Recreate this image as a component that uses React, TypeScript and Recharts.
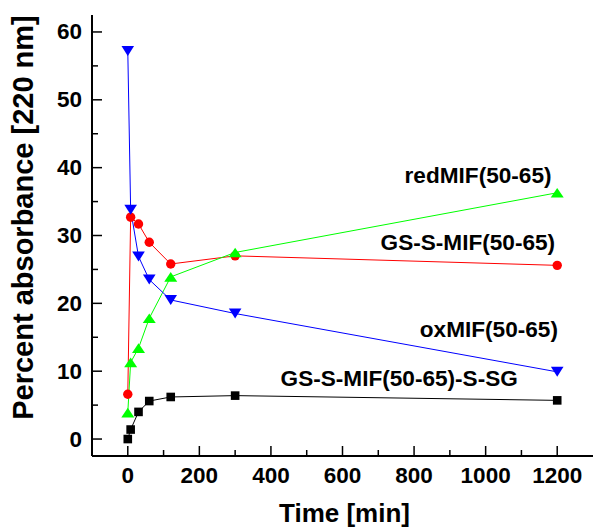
import React from 'react';
import {
  LineChart,
  Line,
  XAxis,
  YAxis,
  ReferenceDot,
  Label,
} from 'recharts';

// sampling times [min], shared by all four series
const timeMin = [0, 8, 30, 60, 120, 300, 1200];

// percent absorbance at 220 nm
const gsSgValues = [0.0, 1.4, 4.0, 5.6, 6.2, 6.4, 5.7];
const gsMifValues = [6.6, 32.7, 31.7, 29.0, 25.8, 27.0, 25.6];
const redMifValues = [3.9, 11.3, 13.4, 17.8, 23.9, 27.5, 36.3];
const oxMifValues = [57.2, 33.8, 26.9, 23.5, 20.5, 18.5, 9.9];

const xTicks = [0, 100, 200, 300, 400, 500, 600, 700, 800, 900, 1000, 1100, 1200];
const yTicks = [0, 5, 10, 15, 20, 25, 30, 35, 40, 45, 50, 55, 60];

// series name labels, anchored (right end) in data space
const seriesLabels = [
  { text: 'redMIF(50-65)', x: 1184, y: 38.8 },
  { text: 'GS-S-MIF(50-65)', x: 1194, y: 28.9 },
  { text: 'oxMIF(50-65)', x: 1202, y: 16.1 },
  { text: 'GS-S-MIF(50-65)-S-SG', x: 1090, y: 8.85 },
];

const FONT = '"Liberation Sans", Arial, sans-serif';

const toRows = (vals: number[]) => timeMin.map((t, i) => ({ t, v: vals[i] }));

const BottomTick = (props: any) => {
  const { x, y, payload } = props;
  const major = payload.value % 200 === 0;
  return (
    <g>
      <line x1={x} x2={x} y1={y} y2={y - (major ? 10 : 6)} stroke="#000" strokeWidth={1.5} />
      {major && (
        <text x={x} y={y + 19} textAnchor="middle" dominantBaseline="central"
          fontFamily={FONT} fontWeight="bold" fontSize={22.5} fill="#000">
          {payload.value}
        </text>
      )}
    </g>
  );
};

const TopTick = (props: any) => {
  const { x, y, payload } = props;
  const major = payload.value % 200 === 0;
  return <line x1={x} x2={x} y1={y} y2={y + (major ? 10 : 6)} stroke="#000" strokeWidth={1.5} />;
};

const LeftTick = (props: any) => {
  const { x, y, payload } = props;
  const major = payload.value % 10 === 0;
  return (
    <g>
      <line x1={x} x2={x + (major ? 10 : 6)} y1={y} y2={y} stroke="#000" strokeWidth={1.5} />
      {major && (
        <text x={x - 10} y={y} textAnchor="end" dominantBaseline="central"
          fontFamily={FONT} fontWeight="bold" fontSize={22.5} fill="#000">
          {payload.value}
        </text>
      )}
    </g>
  );
};

const Square = (p: any) => (
  <rect key={p.index} x={p.cx - 4.3} y={p.cy - 4.3} width={8.6} height={8.6} fill="#000" />
);
const Circle = (p: any) => <circle key={p.index} cx={p.cx} cy={p.cy} r={4.7} fill="#ff0000" />;
const TriUp = (p: any) => (
  <polygon key={p.index}
    points={`${p.cx - 6.5},${p.cy + 4.8} ${p.cx + 6.5},${p.cy + 4.8} ${p.cx},${p.cy - 4.8}`}
    fill="#00ff00" />
);
const TriDown = (p: any) => (
  <polygon key={p.index}
    points={`${p.cx - 6.3},${p.cy - 5} ${p.cx + 6.3},${p.cy - 5} ${p.cx},${p.cy + 5}`}
    fill="#0000ff" />
);

const YTitle = (props: any) => {
  const vb = props.viewBox;
  const cx = vb.x + 23;
  const cy = vb.y + vb.height / 2 - 18;
  return (
    <text x={cx} y={cy} transform={`rotate(-90, ${cx}, ${cy})`} textAnchor="middle"
      dominantBaseline="central" fontFamily={FONT} fontWeight="bold" fontSize={29} fill="#000">
      Percent absorbance [220 nm]
    </text>
  );
};

const XTitle = (props: any) => {
  const vb = props.viewBox;
  return (
    <text x={vb.x + vb.width / 2 + 2} y={vb.y + 57} textAnchor="middle" dominantBaseline="central"
      fontFamily={FONT} fontWeight="bold" fontSize={26} fill="#000">
      Time [min]
    </text>
  );
};

const SeriesLabel = (text: string) => (props: any) => {
  const vb = props.viewBox;
  return (
    <text x={vb.x} y={vb.y} textAnchor="end" dominantBaseline="central"
      fontFamily={FONT} fontWeight="bold" fontSize={22.6} fill="#000">
      {text}
    </text>
  );
};

export default function App() {
  return (
    <div style={{ position: 'fixed', left: 0, top: 0, width: 593, height: 527, background: '#fff' }}>
      <LineChart width={593} height={527} margin={{ top: 15, right: 0, bottom: 0, left: 0 }}>
        <XAxis
          type="number"
          dataKey="t"
          domain={[-100, 1300]}
          ticks={xTicks}
          allowDataOverflow
          height={71}
          tickSize={0}
          tickMargin={0}
          tickLine={false}
          tick={<BottomTick />}
          axisLine={{ stroke: '#000', strokeWidth: 2 }}
          interval={0}
        >
          <Label content={<XTitle />} />
        </XAxis>
        <XAxis
          xAxisId="top"
          orientation="top"
          type="number"
          dataKey="t"
          domain={[-100, 1300]}
          ticks={xTicks}
          allowDataOverflow
          height={0}
          tickSize={0}
          tickMargin={0}
          tickLine={false}
          tick={<TopTick />}
          axisLine={{ stroke: '#000', strokeWidth: 2 }}
          interval={0}
        />
        <YAxis
          type="number"
          domain={[-2.5, 62.5]}
          ticks={yTicks}
          allowDataOverflow
          width={92}
          tickSize={0}
          tickMargin={0}
          tickLine={false}
          tick={<LeftTick />}
          axisLine={{ stroke: '#000', strokeWidth: 2 }}
          interval={0}
        >
          <Label content={<YTitle />} />
        </YAxis>

        <Line data={toRows(gsSgValues)} dataKey="v" stroke="#000" strokeWidth={1}
          dot={Square} activeDot={false} isAnimationActive={false} />
        <Line data={toRows(gsMifValues)} dataKey="v" stroke="#ff0000" strokeWidth={1}
          dot={Circle} activeDot={false} isAnimationActive={false} />
        <Line data={toRows(redMifValues)} dataKey="v" stroke="#00ff00" strokeWidth={1}
          dot={TriUp} activeDot={false} isAnimationActive={false} />
        <Line data={toRows(oxMifValues)} dataKey="v" stroke="#0000ff" strokeWidth={1}
          dot={TriDown} activeDot={false} isAnimationActive={false} />

        {seriesLabels.map((s) => (
          <ReferenceDot key={s.text} x={s.x} y={s.y} r={0} fill="none" stroke="none"
            ifOverflow="visible" label={<Label content={SeriesLabel(s.text)} />} />
        ))}
      </LineChart>
    </div>
  );
}
